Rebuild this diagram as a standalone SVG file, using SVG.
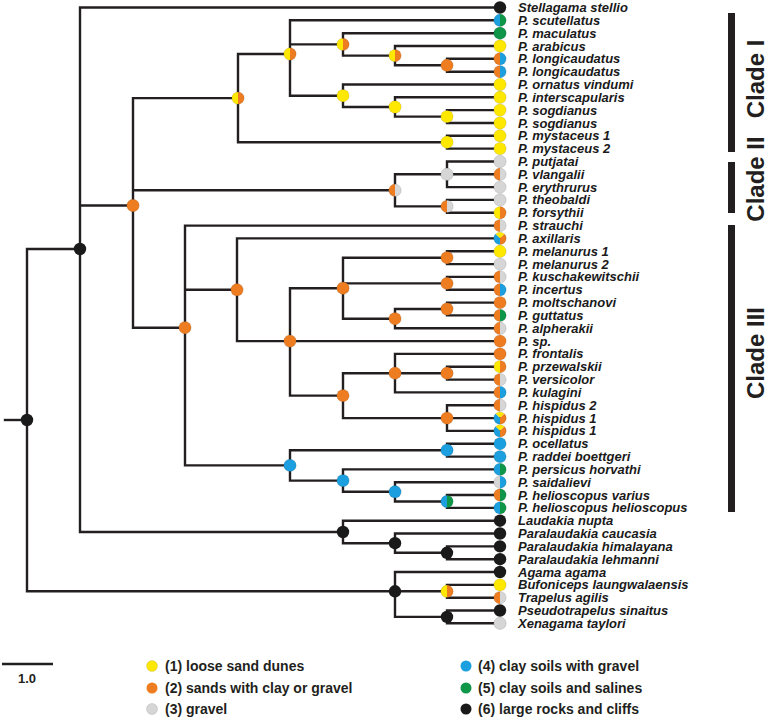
<svg xmlns="http://www.w3.org/2000/svg" xmlns:xlink="http://www.w3.org/1999/xlink" width="769" height="724" viewBox="0 0 769 724">
<style>
.br{fill:none;stroke:#231F20;stroke-width:2.4;stroke-linejoin:miter;stroke-linecap:square}
.lb{font-family:"Liberation Sans",Arial,sans-serif;font-size:13px;font-weight:bold;font-style:italic;fill:#1A1A1A}
.lg{font-family:"Liberation Sans",Arial,sans-serif;font-size:14px;font-weight:bold;fill:#231F20}
.cl{font-family:"Liberation Sans",Arial,sans-serif;font-size:24px;font-weight:bold;fill:#231F20}
.bar{fill:#231F20}
.ol{fill:none;stroke:#000;stroke-opacity:0.18;stroke-width:0.6}
.cY{fill:#FFE800}.cO{fill:#EE7D21}.cG{fill:#D6D6D6}.cB{fill:#1C9FDF}.cN{fill:#0F9648}.cK{fill:#1A1A1A}
</style>
<defs>
<g id="sK"><circle r="6.2" class="cK"/></g>
<g id="sY"><circle r="6.2" class="cY"/><circle r="6.2" class="ol"/></g>
<g id="sO"><circle r="6.2" class="cO"/><circle r="6.2" class="ol"/></g>
<g id="sG"><circle r="6.2" class="cG"/><circle r="6.2" class="ol"/></g>
<g id="sB"><circle r="6.2" class="cB"/><circle r="6.2" class="ol"/></g>
<g id="sN"><circle r="6.2" class="cN"/><circle r="6.2" class="ol"/></g>
<g id="sBN"><path d="M0,-6.2A6.2,6.2 0 0 0 0,6.2Z" class="cB"/><path d="M0,-6.2A6.2,6.2 0 0 1 0,6.2Z" class="cN"/><circle r="6.2" class="ol"/></g>
<g id="sOB"><path d="M0,-6.2A6.2,6.2 0 0 0 0,6.2Z" class="cO"/><path d="M0,-6.2A6.2,6.2 0 0 1 0,6.2Z" class="cB"/><circle r="6.2" class="ol"/></g>
<g id="sOG"><path d="M0,-6.2A6.2,6.2 0 0 0 0,6.2Z" class="cO"/><path d="M0,-6.2A6.2,6.2 0 0 1 0,6.2Z" class="cG"/><circle r="6.2" class="ol"/></g>
<g id="sYO"><path d="M0,-6.2A6.2,6.2 0 0 0 0,6.2Z" class="cY"/><path d="M0,-6.2A6.2,6.2 0 0 1 0,6.2Z" class="cO"/><circle r="6.2" class="ol"/></g>
<g id="sGB"><path d="M0,-6.2A6.2,6.2 0 0 0 0,6.2Z" class="cG"/><path d="M0,-6.2A6.2,6.2 0 0 1 0,6.2Z" class="cB"/><circle r="6.2" class="ol"/></g>
<g id="sON"><path d="M0,-6.2A6.2,6.2 0 0 0 0,6.2Z" class="cO"/><path d="M0,-6.2A6.2,6.2 0 0 1 0,6.2Z" class="cN"/><circle r="6.2" class="ol"/></g>
<g id="sYBO"><path d="M0,0L-4.384,-4.384A6.2,6.2 0 0 1 4.384,-4.384Z" class="cY"/><path d="M0,0L4.384,-4.384A6.2,6.2 0 0 1 0,6.2Z" class="cO"/><path d="M0,0L0,6.2A6.2,6.2 0 0 1 -4.384,-4.384Z" class="cB"/><circle r="6.2" class="ol"/></g>
</defs>
<rect width="769" height="724" fill="#FFFFFF"/>
<g id="connectors" class="br">
<path d="M5,420H27"/>
<path d="M80,249H27V591.3H395"/>
<path d="M500,7.5H80V532H343M80,205.5H133"/>
<path d="M238,98.1H133V327.7H185M133,190.3H395"/>
<path d="M290,54H238V142.2H447"/>
<path d="M500,20.3H290V95.7H343M290,44.4H343"/>
<path d="M500,33.2H343V55.6H395"/>
<path d="M500,46H395V65.3H447"/>
<path d="M500,58.8H447V71.7H500"/>
<path d="M500,84.5H343V107H395"/>
<path d="M500,97.3H395V116.6H447"/>
<path d="M500,110.1H447V123H500"/>
<path d="M500,135.8H447V148.6H500"/>
<path d="M447,174.3H395V206.4H447"/>
<path d="M500,161.5H447V187.1H500M447,174.3H500"/>
<path d="M500,199.9H447V212.8H500"/>
<path d="M500,225.6H185V465.4H290M185,289.8H237"/>
<path d="M500,238.4H237V341.1H500"/>
<path d="M343,288.2H290V395.6H343"/>
<path d="M447,257.7H343V318.7H395M343,283.4H447"/>
<path d="M500,251.3H447V264.1H500"/>
<path d="M500,276.9H447V289.8H500"/>
<path d="M500,302.6H447V315.4H500"/>
<path d="M447,309H395V328.3H500"/>
<path d="M395,373.2H343V418.1H447"/>
<path d="M500,353.9H395V392.4H500M395,373.2H447"/>
<path d="M500,366.7H447V379.6H500"/>
<path d="M500,405.2H447V430.9H500M447,418.1H500"/>
<path d="M447,450.2H290V480.6H343"/>
<path d="M500,443.7H447V456.6H500"/>
<path d="M500,469.4H343V491.8H395"/>
<path d="M500,482.2H395V501.5H447"/>
<path d="M500,495H447V507.9H500"/>
<path d="M500,520.7H343V543.2H395"/>
<path d="M500,533.5H395V552.8H447"/>
<path d="M500,546.4H447V559.2H500"/>
<path d="M500,572H395V616.9H447M395,591.3H447"/>
<path d="M500,584.9H447V597.7H500"/>
<path d="M500,610.5H447V623.3H500"/>
</g>
<g id="internal-nodes">
<g id="n-root"><use href="#sK" x="27" y="420"/></g>
<g id="n-A"><use href="#sK" x="80" y="249"/></g>
<g id="n-B"><use href="#sO" x="133" y="205.5"/></g>
<g id="n-clade1"><use href="#sYO" x="238" y="98.1"/></g>
<g id="n-290"><use href="#sYO" x="290" y="54"/></g>
<g id="n-mac"><use href="#sYO" x="343" y="44.4"/></g>
<g id="n-arab"><use href="#sYO" x="395" y="55.6"/></g>
<g id="n-long"><use href="#sO" x="447" y="65.3"/></g>
<g id="n-orn"><use href="#sY" x="343" y="95.7"/></g>
<g id="n-inter"><use href="#sY" x="395" y="107"/></g>
<g id="n-sog"><use href="#sY" x="447" y="116.6"/></g>
<g id="n-mys"><use href="#sY" x="447" y="142.2"/></g>
<g id="n-clade2"><use href="#sOG" x="395" y="190.3"/></g>
<g id="n-put"><use href="#sG" x="447" y="174.3"/></g>
<g id="n-theo"><use href="#sOG" x="447" y="206.4"/></g>
<g id="n-clade3"><use href="#sO" x="185" y="327.7"/></g>
<g id="n-237"><use href="#sO" x="237" y="289.8"/></g>
<g id="n-290b"><use href="#sO" x="290" y="341.1"/></g>
<g id="n-343a"><use href="#sO" x="343" y="288.2"/></g>
<g id="n-447a"><use href="#sO" x="447" y="257.7"/></g>
<g id="n-447b"><use href="#sO" x="447" y="283.4"/></g>
<g id="n-447c"><use href="#sO" x="447" y="309"/></g>
<g id="n-395"><use href="#sO" x="395" y="318.7"/></g>
<g id="n-343b"><use href="#sO" x="343" y="395.6"/></g>
<g id="n-395b"><use href="#sO" x="395" y="373.2"/></g>
<g id="n-447d"><use href="#sO" x="447" y="373.2"/></g>
<g id="n-447e"><use href="#sO" x="447" y="418.1"/></g>
<g id="n-290c"><use href="#sB" x="290" y="465.4"/></g>
<g id="n-447f"><use href="#sB" x="447" y="450.2"/></g>
<g id="n-343c"><use href="#sB" x="343" y="480.6"/></g>
<g id="n-395c"><use href="#sB" x="395" y="491.8"/></g>
<g id="n-447g"><use href="#sBN" x="447" y="501.5"/></g>
<g id="n-343L"><use href="#sK" x="343" y="532"/></g>
<g id="n-395L"><use href="#sK" x="395" y="543.2"/></g>
<g id="n-447L"><use href="#sK" x="447" y="552.8"/></g>
<g id="n-395o"><use href="#sK" x="395" y="591.3"/></g>
<g id="n-447bt"><use href="#sYO" x="447" y="591.3"/></g>
<g id="n-447px"><use href="#sK" x="447" y="616.9"/></g>
</g>
<g id="tips">
<g id="t0"><use href="#sK" x="500" y="7.5"/><text class="lb" x="518" y="12">Stellagama stellio</text></g>
<g id="t1"><use href="#sBN" x="500" y="20.3"/><text class="lb" x="518" y="24.8">P. scutellatus</text></g>
<g id="t2"><use href="#sN" x="500" y="33.2"/><text class="lb" x="518" y="37.7">P. maculatus</text></g>
<g id="t3"><use href="#sY" x="500" y="46"/><text class="lb" x="518" y="50.5">P. arabicus</text></g>
<g id="t4"><use href="#sOB" x="500" y="58.8"/><text class="lb" x="518" y="63.3">P. longicaudatus</text></g>
<g id="t5"><use href="#sOB" x="500" y="71.7"/><text class="lb" x="518" y="76.2">P. longicaudatus</text></g>
<g id="t6"><use href="#sY" x="500" y="84.5"/><text class="lb" x="518" y="89">P. ornatus vindumi</text></g>
<g id="t7"><use href="#sY" x="500" y="97.3"/><text class="lb" x="518" y="101.8">P. interscapularis</text></g>
<g id="t8"><use href="#sY" x="500" y="110.1"/><text class="lb" x="518" y="114.6">P. sogdianus</text></g>
<g id="t9"><use href="#sY" x="500" y="123"/><text class="lb" x="518" y="127.5">P. sogdianus</text></g>
<g id="t10"><use href="#sY" x="500" y="135.8"/><text class="lb" x="518" y="140.3">P. mystaceus 1</text></g>
<g id="t11"><use href="#sY" x="500" y="148.6"/><text class="lb" x="518" y="153.1">P. mystaceus 2</text></g>
<g id="t12"><use href="#sG" x="500" y="161.5"/><text class="lb" x="518" y="166">P. putjatai</text></g>
<g id="t13"><use href="#sOG" x="500" y="174.3"/><text class="lb" x="518" y="178.8">P. vlangalii</text></g>
<g id="t14"><use href="#sG" x="500" y="187.1"/><text class="lb" x="518" y="191.6">P. erythrurus</text></g>
<g id="t15"><use href="#sG" x="500" y="199.9"/><text class="lb" x="518" y="204.4">P. theobaldi</text></g>
<g id="t16"><use href="#sYO" x="500" y="212.8"/><text class="lb" x="518" y="217.3">P. forsythii</text></g>
<g id="t17"><use href="#sOG" x="500" y="225.6"/><text class="lb" x="518" y="230.1">P. strauchi</text></g>
<g id="t18"><use href="#sYBO" x="500" y="238.4"/><text class="lb" x="518" y="242.9">P. axillaris</text></g>
<g id="t19"><use href="#sY" x="500" y="251.3"/><text class="lb" x="518" y="255.8">P. melanurus 1</text></g>
<g id="t20"><use href="#sG" x="500" y="264.1"/><text class="lb" x="518" y="268.6">P. melanurus 2</text></g>
<g id="t21"><use href="#sOG" x="500" y="276.9"/><text class="lb" x="518" y="281.4">P. kuschakewitschii</text></g>
<g id="t22"><use href="#sOB" x="500" y="289.8"/><text class="lb" x="518" y="294.3">P. incertus</text></g>
<g id="t23"><use href="#sO" x="500" y="302.6"/><text class="lb" x="518" y="307.1">P. moltschanovi</text></g>
<g id="t24"><use href="#sON" x="500" y="315.4"/><text class="lb" x="518" y="319.9">P. guttatus</text></g>
<g id="t25"><use href="#sOG" x="500" y="328.3"/><text class="lb" x="518" y="332.8">P. alpherakii</text></g>
<g id="t26"><use href="#sO" x="500" y="341.1"/><text class="lb" x="518" y="345.6">P. sp.</text></g>
<g id="t27"><use href="#sO" x="500" y="353.9"/><text class="lb" x="518" y="358.4">P. frontalis</text></g>
<g id="t28"><use href="#sYO" x="500" y="366.7"/><text class="lb" x="518" y="371.2">P. przewalskii</text></g>
<g id="t29"><use href="#sOG" x="500" y="379.6"/><text class="lb" x="518" y="384.1">P. versicolor</text></g>
<g id="t30"><use href="#sOB" x="500" y="392.4"/><text class="lb" x="518" y="396.9">P. kulagini</text></g>
<g id="t31"><use href="#sOG" x="500" y="405.2"/><text class="lb" x="518" y="409.7">P. hispidus 2</text></g>
<g id="t32"><use href="#sYBO" x="500" y="418.1"/><text class="lb" x="518" y="422.6">P. hispidus 1</text></g>
<g id="t33"><use href="#sYBO" x="500" y="430.9"/><text class="lb" x="518" y="435.4">P. hispidus 1</text></g>
<g id="t34"><use href="#sB" x="500" y="443.7"/><text class="lb" x="518" y="448.2">P. ocellatus</text></g>
<g id="t35"><use href="#sB" x="500" y="456.6"/><text class="lb" x="518" y="461.1">P. raddei boettgeri</text></g>
<g id="t36"><use href="#sBN" x="500" y="469.4"/><text class="lb" x="518" y="473.9">P. persicus horvathi</text></g>
<g id="t37"><use href="#sGB" x="500" y="482.2"/><text class="lb" x="518" y="486.7">P. saidalievi</text></g>
<g id="t38"><use href="#sON" x="500" y="495"/><text class="lb" x="518" y="499.5">P. helioscopus varius</text></g>
<g id="t39"><use href="#sBN" x="500" y="507.9"/><text class="lb" x="518" y="512.4">P. helioscopus helioscopus</text></g>
<g id="t40"><use href="#sK" x="500" y="520.7"/><text class="lb" x="518" y="525.2">Laudakia nupta</text></g>
<g id="t41"><use href="#sK" x="500" y="533.5"/><text class="lb" x="518" y="538">Paralaudakia caucasia</text></g>
<g id="t42"><use href="#sK" x="500" y="546.4"/><text class="lb" x="518" y="550.9">Paralaudakia himalayana</text></g>
<g id="t43"><use href="#sK" x="500" y="559.2"/><text class="lb" x="518" y="563.7">Paralaudakia lehmanni</text></g>
<g id="t44"><use href="#sK" x="500" y="572"/><text class="lb" x="518" y="576.5">Agama agama</text></g>
<g id="t45"><use href="#sY" x="500" y="584.9"/><text class="lb" x="518" y="589.4">Bufoniceps laungwalaensis</text></g>
<g id="t46"><use href="#sOG" x="500" y="597.7"/><text class="lb" x="518" y="602.2">Trapelus agilis</text></g>
<g id="t47"><use href="#sK" x="500" y="610.5"/><text class="lb" x="518" y="615">Pseudotrapelus sinaitus</text></g>
<g id="t48"><use href="#sG" x="500" y="623.3"/><text class="lb" x="518" y="627.8">Xenagama taylori</text></g>
</g>
<g id="clades">
<rect class="bar" x="728" y="13" width="7" height="139"/>
<rect class="bar" x="728" y="162" width="7" height="51"/>
<rect class="bar" x="728" y="225" width="7" height="287"/>
<text class="cl" text-anchor="middle" transform="translate(764,79) rotate(-90)">Clade I</text>
<text class="cl" text-anchor="middle" transform="translate(764,179) rotate(-90)">Clade II</text>
<text class="cl" text-anchor="middle" transform="translate(764,353) rotate(-90)">Clade III</text>
</g>
<g id="legend">
<path d="M2,664H53" class="br" style="stroke-linecap:butt"/>
<text class="lg" x="27" y="683" text-anchor="middle" style="font-size:13px">1.0</text>
<circle cx="152" cy="666" r="5.5" class="cY"/><circle cx="152" cy="666" r="5.5" class="ol"/>
<text class="lg" x="165" y="671">(1) loose sand dunes</text>
<circle cx="152" cy="688" r="5.5" class="cO"/>
<text class="lg" x="165" y="693">(2) sands with clay or gravel</text>
<circle cx="152" cy="709" r="5.5" class="cG"/><circle cx="152" cy="709" r="5.5" class="ol"/>
<text class="lg" x="165" y="714">(3) gravel</text>
<circle cx="466" cy="666" r="5.5" class="cB"/>
<text class="lg" x="478" y="671">(4) clay soils with gravel</text>
<circle cx="466" cy="688" r="5.5" class="cN"/>
<text class="lg" x="478" y="693">(5) clay soils and salines</text>
<circle cx="466" cy="709" r="5.5" class="cK"/>
<text class="lg" x="478" y="714">(6) large rocks and cliffs</text>
</g>
</svg>
